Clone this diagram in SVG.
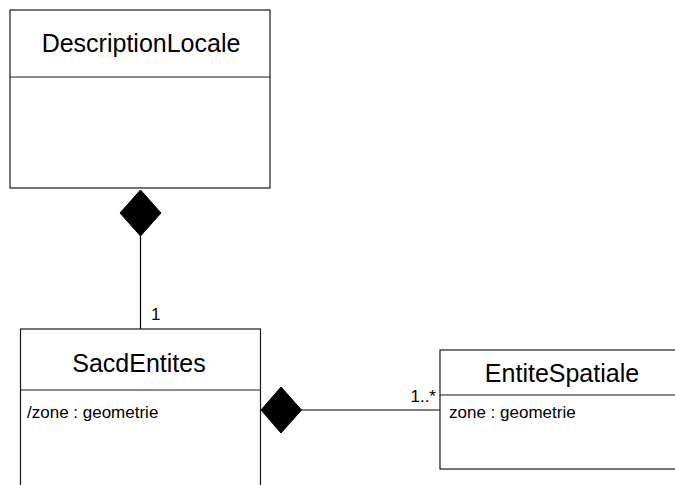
<svg xmlns="http://www.w3.org/2000/svg" width="675" height="485" viewBox="0 0 675 485">
  <style>
    .box { fill: #fff; stroke: #1a1a1a; stroke-width: 1.2; }
    .sep { stroke: #1a1a1a; stroke-width: 1.2; fill: none; }
    .title { font-family: "Liberation Sans", Arial, sans-serif; font-size: 25px; fill: #000; text-anchor: middle; }
    .attr { font-family: "Liberation Sans", Arial, sans-serif; font-size: 17px; fill: #000; }
    .mult { font-family: "Liberation Sans", Arial, sans-serif; font-size: 17px; fill: #000; }
    .line { stroke: #000; stroke-width: 1.2; fill: none; }
    .diamond { fill: #000; stroke: #000; stroke-width: 1; }
  </style>
  <rect width="675" height="485" fill="#fff"/>

  <g id="connectors">
    <!-- DescriptionLocale ◆— SacdEntites -->
    <line class="line" x1="140.5" y1="236" x2="140.5" y2="329"/>
    <polygon class="diamond" points="140.5,190 161,213 140.5,236 120,213"/>
    <text class="mult" x="151" y="320">1</text>
    <!-- SacdEntites ◆— EntiteSpatiale -->
    <line class="line" x1="301" y1="410" x2="440" y2="410"/>
    <polygon class="diamond" points="261,410 281,387 301.5,410 281,433"/>
    <text class="mult" x="436" y="401.5" text-anchor="end">1..*</text>
  </g>

  <g id="DescriptionLocale">
    <rect class="box" x="10" y="10" width="260" height="178"/>
    <line class="sep" x1="10" y1="77" x2="270" y2="77"/>
    <text class="title" x="141" y="52">DescriptionLocale</text>
  </g>

  <g id="SacdEntites">
    <rect class="box" x="20.5" y="329" width="240" height="170"/>
    <line class="sep" x1="20.5" y1="390" x2="260.5" y2="390"/>
    <text class="title" x="139" y="372">SacdEntites</text>
    <text class="attr" x="27" y="418">/zone : geometrie</text>
  </g>

  <g id="EntiteSpatiale">
    <rect class="box" x="440" y="350" width="245" height="119"/>
    <line class="sep" x1="440" y1="395" x2="685" y2="395"/>
    <text class="title" x="562" y="382">EntiteSpatiale</text>
    <text class="attr" x="449" y="418">zone : geometrie</text>
  </g>
</svg>
